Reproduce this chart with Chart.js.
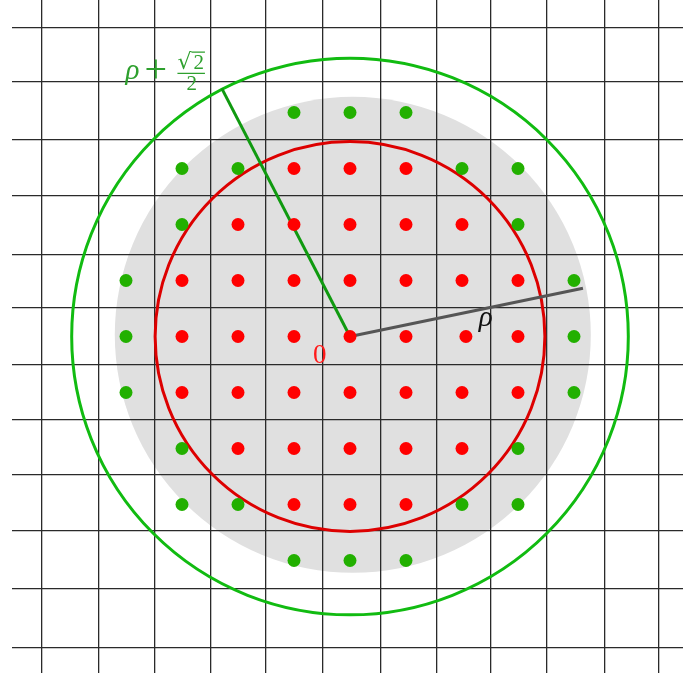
<!DOCTYPE html>
<html>
<head>
<meta charset="utf-8">
<script src="https://cdn.jsdelivr.net/npm/chart.js@4.4.1/dist/chart.umd.min.js"></script>
<style>
  html, body { margin: 0; padding: 0; background: #fff; }
  #wrap { width: 683px; height: 677px; }
</style>
</head>
<body>
<div id="wrap"><canvas id="chart"></canvas></div>
<script>
// lattice points as (column, row), origin at the centre dot
const redDots = [
  [-1, 3], [0, 3], [1, 3],
  [-2, 2], [-1, 2], [0, 2], [1, 2], [2, 2],
  [-3, 1], [-2, 1], [-1, 1], [0, 1], [1, 1], [2, 1], [3, 1],
  [-3, 0], [-2, 0], [-1, 0], [0, 0], [1, 0], [2.07, 0], [3, 0],
  [-3, -1], [-2, -1], [-1, -1], [0, -1], [1, -1], [2, -1], [3, -1],
  [-2, -2], [-1, -2], [0, -2], [1, -2], [2, -2],
  [-1, -3], [0, -3], [1, -3]
];
const greenDots = [
  [-1, 4], [0, 4], [1, 4],
  [-3, 3], [-2, 3], [2, 3], [3, 3],
  [-3, 2], [3, 2],
  [-4, 1], [4, 1],
  [-4, 0], [4, 0],
  [-4, -1], [4, -1],
  [-3, -2], [3, -2],
  [-3, -3], [-2, -3], [2, -3], [3, -3],
  [-1, -4], [0, -4], [1, -4]
];

// grid lines (cell borders)
const gridCols = [-5.5, -4.48, -3.49, -2.48, -1.5, -0.49, 0.54, 1.54, 2.52, 3.52, 4.55, 5.52];
const gridRows = [5.51, 4.55, 3.51, 2.51, 1.47, 0.51, -0.51, -1.49, -2.47, -3.47, -4.51, -5.55];

// circles: shaded disc, rho circle, rho + sqrt2/2 circle
const discCentre = [0.05, 0.03];
const discRadius = 4.25;
const rhoRadius = 3.48;
const outerRadius = 4.97;

// the two radius segments from the origin
const outerRadiusLine = [[0, 0], [-2.29, 4.43]];
const rhoLine = [[0, 0], [4.16, 0.86]];

const toPts = arr => arr.map(p => ({ x: p[0], y: p[1] }));

function ring(chart, c, r, fill, stroke, width) {
  const { ctx, scales: { x, y } } = chart;
  const cx = x.getPixelForValue(c[0]), cy = y.getPixelForValue(c[1]);
  const rx = x.getPixelForValue(c[0] + r) - cx;
  const ry = cy - y.getPixelForValue(c[1] + r);
  ctx.save();
  ctx.beginPath();
  ctx.ellipse(cx, cy, rx, ry, 0, 0, Math.PI * 2);
  if (fill) { ctx.fillStyle = fill; ctx.fill(); }
  if (stroke) { ctx.strokeStyle = stroke; ctx.lineWidth = width; ctx.stroke(); }
  ctx.restore();
}

const shapes = {
  id: 'shapes',
  beforeDraw(chart) {
    ring(chart, discCentre, discRadius, '#e0e0e0');
  },
  beforeDatasetsDraw(chart) {
    ring(chart, [0, 0], rhoRadius, null, '#dd0000', 3);
    ring(chart, [0, 0], outerRadius, null, '#11bb11', 3);
  },
  afterDraw(chart) {
    const { ctx, scales: { x, y } } = chart;
    ctx.save();
    ctx.textBaseline = 'alphabetic';

    // "0" at the origin
    ctx.fillStyle = '#ff1a1a';
    ctx.font = '27px "Liberation Serif"';
    ctx.textAlign = 'center';
    ctx.fillText('0', x.getPixelForValue(-0.54), y.getPixelForValue(-0.47));

    // rho on the grey radius
    ctx.fillStyle = '#111';
    ctx.font = 'italic 29px "Liberation Serif"';
    ctx.textAlign = 'left';
    ctx.fillText('ρ', x.getPixelForValue(2.3), y.getPixelForValue(0.19));

    // rho + sqrt2 / 2
    const gx = x.getPixelForValue(-4.01), gy = y.getPixelForValue(4.59);
    ctx.fillStyle = '#2ea02e';
    ctx.strokeStyle = '#2ea02e';
    ctx.fillText('ρ', gx, gy);
    ctx.font = '40px "Liberation Serif"';
    ctx.fillText('+', gx + 19, gy + 3);

    const nb = gy - 10;           // numerator baseline
    ctx.font = '22px "DejaVu Serif"';
    const rx = gx + 52;
    ctx.fillText('√', rx, nb);
    const m = ctx.measureText('√');
    const rootRight = rx + m.actualBoundingBoxRight;
    const rootTop = nb - m.actualBoundingBoxAscent;
    ctx.font = '21px "Liberation Serif"';
    const w2 = ctx.measureText('2').width;
    ctx.fillText('2', rootRight + 1, nb);
    ctx.fillText('2', gx + 61, gy + 11);
    ctx.lineWidth = 1.3;
    ctx.beginPath();
    ctx.moveTo(rootRight - 1, rootTop + 0.7);
    ctx.lineTo(rootRight + w2 + 2, rootTop + 0.7);
    ctx.moveTo(gx + 52, gy - 6);
    ctx.lineTo(rootRight + w2 + 2, gy - 6);
    ctx.stroke();
    ctx.restore();
  }
};

const unit = { x: 56, y: 56 };
const ctx = document.getElementById('chart').getContext('2d');
new Chart(ctx, {
  type: 'scatter',
  data: {
    datasets: [
      {
        label: 'inside rho',
        data: toPts(redDots),
        backgroundColor: '#ff0000',
        borderWidth: 0,
        pointRadius: 6.5,
        order: 0
      },
      {
        label: 'outside rho',
        data: toPts(greenDots),
        backgroundColor: '#22b000',
        borderWidth: 0,
        pointRadius: 6.5,
        order: 0
      },
      {
        type: 'line',
        label: 'rho + sqrt2/2',
        data: toPts(outerRadiusLine),
        borderColor: '#109a10',
        borderWidth: 3,
        pointRadius: 0,
        order: 2
      },
      {
        type: 'line',
        label: 'rho',
        data: toPts(rhoLine),
        borderColor: '#555555',
        borderWidth: 3,
        pointRadius: 0,
        order: 1
      }
    ]
  },
  options: {
    responsive: true,
    maintainAspectRatio: false,
    animation: false,
    layout: { autoPadding: false, padding: { left: 12, right: 0, top: 0, bottom: 4 } },
    plugins: {
      legend: { display: false },
      tooltip: { enabled: false }
    },
    scales: {
      x: {
        type: 'linear',
        min: -338 / unit.x,
        max: 333 / unit.x,
        afterBuildTicks: s => { s.ticks = gridCols.map(v => ({ value: v })); },
        ticks: { display: false },
        border: { display: false },
        grid: { color: '#2a2a2a', lineWidth: 1.3, drawTicks: false }
      },
      y: {
        type: 'linear',
        min: -336.5 / unit.y,
        max: 336.5 / unit.y,
        afterBuildTicks: s => { s.ticks = gridRows.map(v => ({ value: v })); },
        ticks: { display: false },
        border: { display: false },
        grid: { color: '#2a2a2a', lineWidth: 1.3, drawTicks: false }
      }
    }
  },
  plugins: [shapes]
});
</script>
</body>
</html>
